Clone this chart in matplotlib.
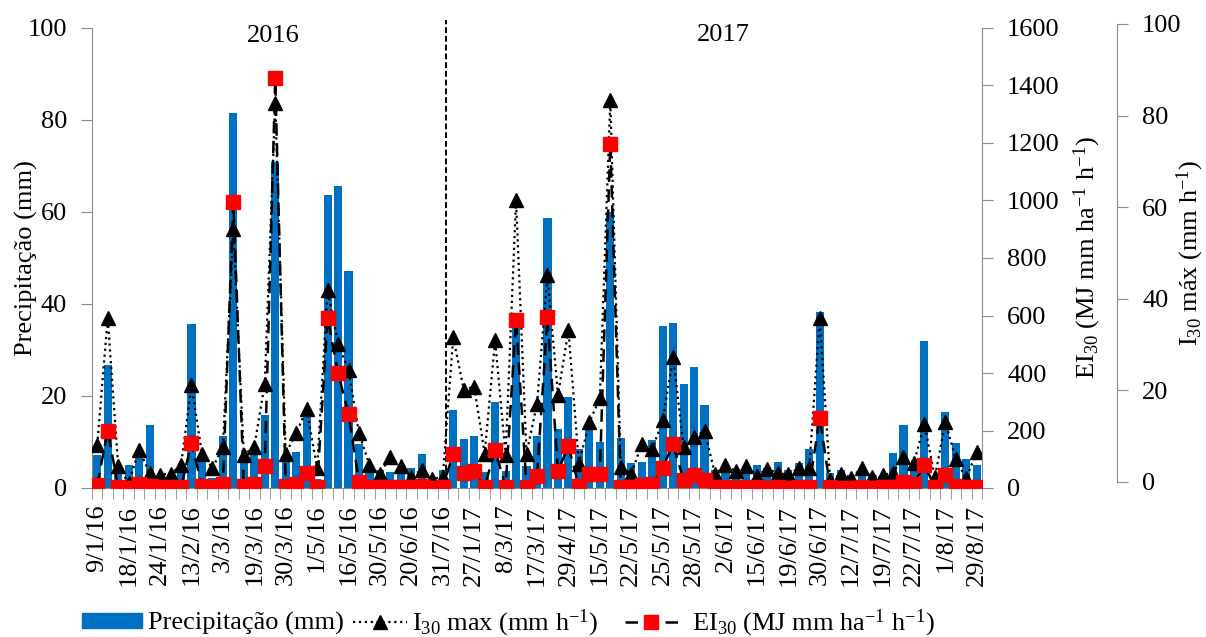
import numpy as np
import matplotlib
matplotlib.use("Agg")
import matplotlib.pyplot as plt
from matplotlib.patches import Patch
from matplotlib.lines import Line2D

plt.rcParams['font.family'] = ['Liberation Serif', 'DejaVu Serif']
plt.rcParams['mathtext.fontset'] = 'custom'
plt.rcParams['mathtext.rm'] = 'Liberation Serif'
plt.rcParams['mathtext.it'] = 'Liberation Serif:italic'
fs = 19

# event-by-event data (85 erosive events, 2016-2017)
precip = [7.2, 26.7, 3.9, 5.0, 6.8, 13.7, 2.8, 2.0, 3.5, 35.6,
          6.3, 2.2, 11.3, 81.6, 5.4, 7.5, 15.9, 70.9, 6.1, 7.9,
          15.9, 2.0, 63.6, 65.7, 47.2, 9.6, 5.0, 4.0, 3.5, 3.3,
          4.3, 7.5, 2.3, 4.0, 17.0, 10.7, 11.2, 3.5, 18.8, 3.8,
          36.0, 4.8, 11.2, 58.6, 12.8, 19.7, 8.5, 13.0, 10.1, 60.1,
          10.9, 5.4, 5.7, 10.4, 35.3, 35.8, 22.7, 26.3, 18.0, 3.9,
          3.5, 2.8, 3.2, 4.9, 4.3, 5.7, 3.9, 5.4, 8.4, 38.3,
          3.2, 3.9, 2.8, 3.2, 2.6, 2.6, 7.7, 13.7, 4.3, 32.0,
          1.5, 16.6, 9.7, 6.2, 5.0]

i30 = [9.4, 37.0, 4.8, 1.0, 8.3, 3.3, 2.9, 3.1, 4.9, 22.3,
       7.5, 4.3, 8.9, 56.2, 7.2, 9.0, 22.7, 83.8, 7.5, 11.9,
       17.1, 4.3, 43.1, 31.4, 25.6, 11.9, 5.0, 3.1, 6.8, 4.7,
       2.5, 4.0, 1.9, 2.5, 32.8, 21.4, 22.0, 7.5, 32.1, 7.2,
       62.5, 7.5, 18.3, 46.2, 20.2, 34.3, 5.3, 14.3, 19.5, 84.3,
       4.6, 3.1, 9.5, 8.4, 14.7, 28.4, 9.0, 11.0, 12.4, 3.1,
       4.9, 3.7, 4.7, 2.7, 4.2, 3.2, 3.0, 4.3, 4.3, 36.9,
       1.7, 3.0, 2.1, 4.4, 2.5, 2.8, 3.3, 6.8, 5.5, 14.0,
       2.3, 14.4, 6.2, 2.1, 7.9]

ei30 = [10, 200, 2, 0, 13, 8, 3, 2, 2, 158,
        8, 2, 15, 996, 8, 14, 77, 1425, 8, 13,
        53, 5, 592, 401, 257, 22, 3, 2, 5, 3,
        2, 6, 1, 2, 120, 52, 60, 5, 132, 5,
        584, 5, 42, 594, 59, 146, 6, 49, 49, 1198,
        5, 3, 10, 13, 71, 152, 28, 46, 28, 2,
        2, 1, 2, 2, 1, 2, 1, 2, 3, 245,
        2, 1, 1, 2, 1, 2, 3, 22, 15, 80,
        4, 45, 8, 4, 5]

date_labels = ['9/1/16', '18/1/16', '24/1/16', '13/2/16', '3/3/16', '19/3/16',
               '30/3/16', '1/5/16', '16/5/16', '30/5/16', '20/6/16', '31/7/16',
               '27/1/17', '8/3/17', '17/3/17', '29/4/17', '15/5/17', '22/5/17',
               '25/5/17', '28/5/17', '2/6/17', '15/6/17', '19/6/17', '30/6/17',
               '12/7/17', '19/7/17', '22/7/17', '1/8/17', '29/8/17']

x = np.arange(len(precip))
gray = '#8c8c8c'

fig = plt.figure(figsize=(12.06, 6.37), dpi=100)
ax = fig.add_axes([92/1206, 1-488/637, 890/1206, 460/637])

ax.bar(x, precip, width=0.78, color='#0070C0', zorder=2)
ax.plot(x, i30, linestyle=':', color='black', lw=1.6, marker='^',
        markersize=10, markerfacecolor='black', markeredgecolor='black', zorder=3)

ax.set_xlim(-0.5, len(x)-0.5)
ax.set_ylim(0, 100)
ax.set_yticks(np.arange(0, 101, 20))
ax.tick_params(axis='y', labelsize=fs, length=8, color=gray, pad=10)
ax.set_xticks(x[::3])
ax.set_xticklabels(date_labels, rotation=90, fontsize=fs)
ax.set_xticks(np.arange(-0.5, len(x), 1), minor=True)
ax.tick_params(axis='x', which='major', length=0, pad=12)
ax.tick_params(axis='x', which='minor', length=8, color=gray)
for s in ['top', 'right']:
    ax.spines[s].set_visible(False)
ax.spines['left'].set_color(gray)
ax.spines['bottom'].set_color(gray)
ax.set_ylabel('Precipitação (mm)', fontsize=fs)
ax.yaxis.set_label_coords(-0.061, 0.5)

# separation between years
ax.plot([33.3, 33.3], [0, 101.7], linestyle=(0, (3, 1.5)), color='black',
        lw=1.4, clip_on=False, zorder=4)
ax.text(16.8, 98.3, '2016', fontsize=fs, ha='center', va='center')
ax.text(59.8, 98.4, '2017', fontsize=fs, ha='center', va='center')

# EI30 axis
ax2 = ax.twinx()
ax2.plot(x, ei30, linestyle=(0, (5, 3)), color='black', lw=1.8, marker='s',
         markersize=10, markerfacecolor='#FF0000', markeredgecolor='#FF0000', zorder=5)
ax2.set_ylim(0, 1600)
ax2.set_yticks(np.arange(0, 1601, 200))
ax2.tick_params(axis='y', labelsize=fs, length=8, color=gray, pad=10)
for s in ['top', 'left', 'bottom']:
    ax2.spines[s].set_visible(False)
ax2.spines['right'].set_color(gray)
ax2.set_ylabel(r'EI$_{30}$ (MJ mm ha$^{-1}$ h$^{-1}$)', fontsize=fs)
ax2.yaxis.set_label_coords(1.101, 0.5)

# I30 max axis (separate scale drawn beside)
ax3 = fig.add_axes([92/1206, 1-482/637, 890/1206, 458/637])
ax3.patch.set_visible(False)
ax3.set_ylim(0, 100)
ax3.set_yticks(np.arange(0, 101, 20))
ax3.set_xticks([])
for s in ['top', 'left', 'bottom']:
    ax3.spines[s].set_visible(False)
ax3.spines['right'].set_position(('axes', 1.1517))
ax3.spines['right'].set_color(gray)
ax3.yaxis.tick_right()
ax3.yaxis.set_label_position('right')
ax3.tick_params(axis='y', labelsize=fs, length=8, color=gray, pad=10)
ax3.set_ylabel(r'I$_{30}$ máx (mm h$^{-1}$)', fontsize=fs)
ax3.yaxis.set_label_coords(1.2165, 0.5)

# legend entries placed one by one, as in the original layout
entries = [
    (Patch(color='#0070C0'), 'Precipitação (mm)', 82, 2.27, 0.23),
    (Line2D([], [], linestyle=':', color='black', lw=1.6, marker='^',
            markersize=10, markerfacecolor='black'),
     r'I$_{30}$ max (mm h$^{-1}$)', 353, 2.05, 0.2),
    (Line2D([], [], linestyle=(0, (5, 3)), color='black', lw=1.8, marker='s',
            markersize=10, markerfacecolor='#FF0000', markeredgecolor='#FF0000'),
     r'EI$_{30}$ (MJ mm ha$^{-1}$ h$^{-1}$)', 625, 2.0, 0.55),
]
for h, lab, px, hl, pad in entries:
    fig.legend([h], [lab], loc='center left', bbox_to_anchor=(px/1206, 0.021),
               frameon=False, fontsize=fs, handlelength=hl, handleheight=0.5,
               handletextpad=pad, borderpad=0, borderaxespad=0)

fig.savefig('out.png', dpi=100)
